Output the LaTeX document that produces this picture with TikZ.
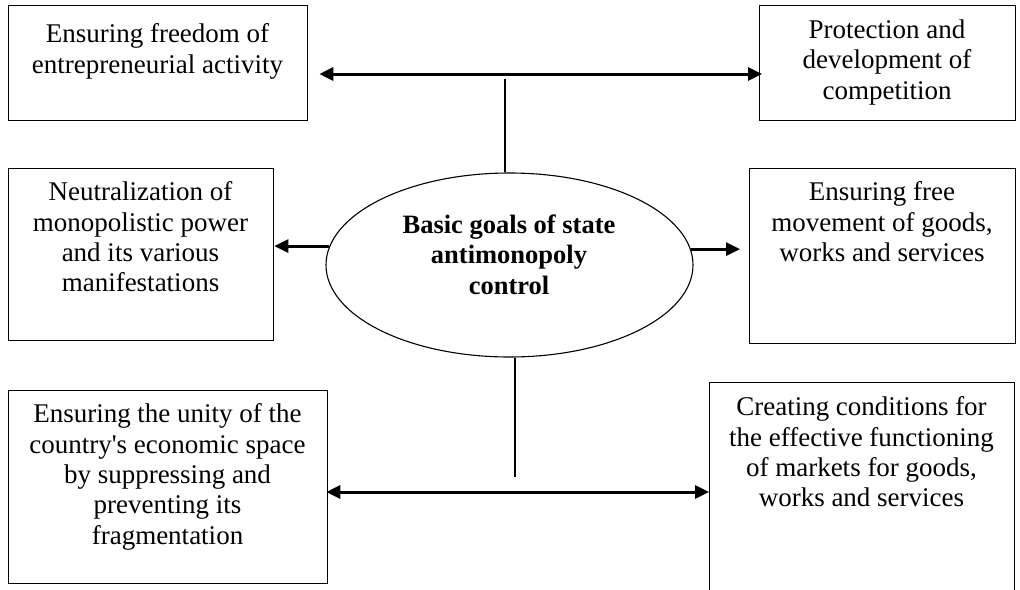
\documentclass[tikz,border=0pt]{standalone}
\usepackage{fontspec}
\setmainfont{Liberation Serif}
\newfontfamily\rawserif{Liberation Serif}
\usetikzlibrary{shapes.geometric,arrows.meta}
\begin{document}
\begin{tikzpicture}[x=1pt,y=-1pt,
  box/.style={draw=black,line width=1.3pt,rectangle,inner sep=0pt,anchor=north west},
  txt/.style={anchor=north,align=center,inner sep=0pt,font=\fontsize{27}{30.3}\selectfont},
  goal/.style={draw=black,line width=1.1pt,ellipse,inner sep=0pt,minimum width=367pt,minimum height=184pt},
  arr/.style={line width=3pt,-{Triangle[length=14pt,width=13pt]}},
  darr/.style={line width=3pt,{Triangle[length=14pt,width=13pt]}-{Triangle[length=14pt,width=13pt]}},
  conn/.style={line width=1.3pt}]
\useasboundingbox (0,0) rectangle (1020,589);
% boxes
\node[box,minimum width=299pt,minimum height=115pt] (b1) at (8,5) {};
\node[box,minimum width=256pt,minimum height=115pt] (b2) at (759,5) {};
\node[box,minimum width=265pt,minimum height=172pt] (b3) at (8,168) {};
\node[box,minimum width=266pt,minimum height=175pt] (b4) at (749,168) {};
\node[box,minimum width=319pt,minimum height=193pt] (b5) at (8,390) {};
\node[box,minimum width=305pt,minimum height=220pt] (b6) at (709,382) {};
% texts
\node[txt] (t1) at (157.5,23.6) {Ensuring freedom of\\entrepreneurial activity};
\node[txt] (t2) at (887,19.6) {Protection and\\development of\\competition};
\node[txt] (t3) at (140.5,181.6) {Neutralization of\\monopolistic power\\and its various\\manifestations};
\node[txt] (t4) at (882,181.6) {Ensuring free\\movement of goods,\\works and services};
\node[txt] (t5) at (167.5,403.6) {Ensuring the unity of the\\country{\rawserif'}s economic space\\by suppressing and\\preventing its\\fragmentation};
\node[txt] (t6) at (861.5,396.6) {Creating conditions for\\the effective functioning\\of markets for goods,\\works and services};
% ellipse
\node[goal] (e) at (509.5,265) {};
\node[txt,font=\fontsize{26.5}{30.3}\selectfont\bfseries] (te) at (509,214.7) {Basic goals of state\\antimonopoly\\control};
% connectors
\coordinate (topy) at (0,74);
\coordinate (topj) at (505,79);
\coordinate (boty) at (0,492);
\coordinate (botj) at (515,477);
\coordinate (ls) at (e.174.6);
\coordinate (rs) at (e.5.4);
\draw[darr] ([xshift=11pt]b1.east |- topy) -- ([xshift=3pt]b2.west |- topy);
\draw[conn] (topj) -- (topj |- e.north);
\draw[arr] (ls) -- (b3.east |- ls);
\draw[arr] (rs) -- ([xshift=-9pt]b4.west |- rs);
\draw[conn] (botj |- e.south) -- (botj);
\draw[darr] ([xshift=-2pt]b5.east |- boty) -- (b6.west |- boty);
\end{tikzpicture}
\end{document}
